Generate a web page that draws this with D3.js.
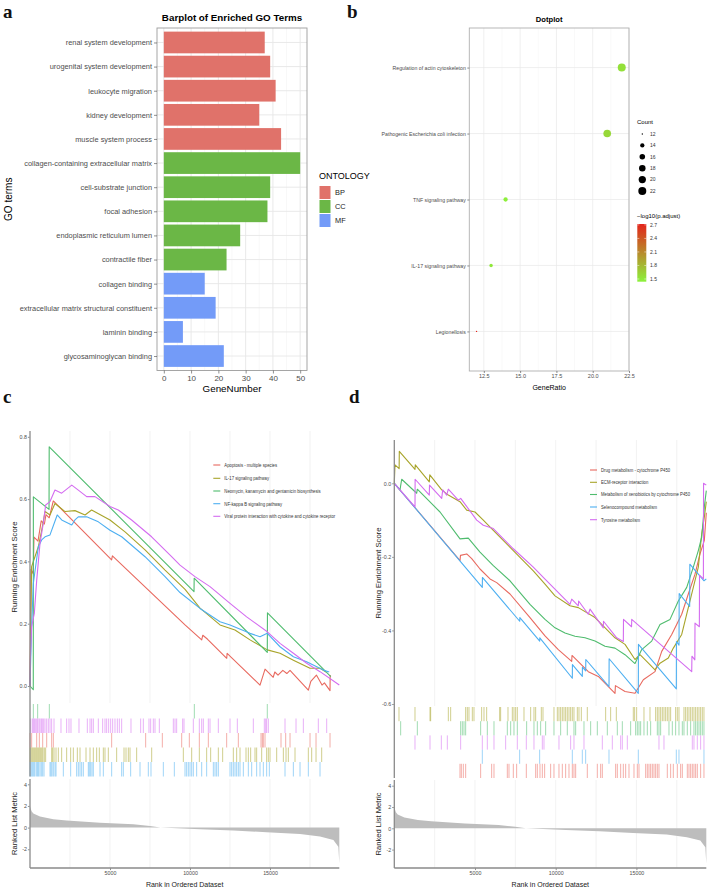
<!DOCTYPE html>
<html><head><meta charset="utf-8">
<script src="https://cdn.jsdelivr.net/npm/d3@7"></script>
<style>body{margin:0;background:#fff}svg{display:block}</style>
</head><body>
<svg id="fig" width="708" height="889"></svg>
<script>
// ---------------- DATA ----------------
// Panel a: GO barplot
const goTerms = ["renal system development","urogenital system development","leukocyte migration","kidney development","muscle system process","collagen-containing extracellular matrix","cell-substrate junction","focal adhesion","endoplasmic reticulum lumen","contractile fiber","collagen binding","extracellular matrix structural constituent","laminin binding","glycosaminoglycan binding"];
const goCounts = [37,39,41,35,43,50,39,38,28,23,15,19,7,22];
const goOntology = ["BP","BP","BP","BP","BP","CC","CC","CC","CC","CC","MF","MF","MF","MF"];
const ontologyLevels = ["BP","CC","MF"];
const goTicks = [0,10,20,30,40,50];

// Panel b: KEGG dotplot
const keggTerms = ["Regulation of actin cytoskeleton","Pathogenic Escherichia coli infection","TNF signaling pathway","IL-17 signaling pathway","Legionellosis"];
const keggRatio = [22,21,14,13,12];
const keggCount = [22,21,14,13,12];
const keggLogP = [1.55,1.6,1.46,1.5,2.72];
const dotTicks = [12.5,15,17.5,20,22.5];
const countLegend = [12,14,16,18,20,22];
const logPTicks = [2.7,2.4,2.1,1.8,1.5];

// Panel c: GSEA (positive)
const cNames = ["Apoptosis - multiple species","IL-17 signaling pathway","Neomycin, kanamycin and gentamicin biosynthesis","NF-kappa B signaling pathway","Viral protein interaction with cytokine and cytokine receptor"];
const cApoptosis = [[0,0],[60,0.375],[200,0.36],[250,0.478],[500,0.465],[700,0.53],[900,0.52],[1000,0.55],[1200,0.54],[1456,0.594],[5100,0.405],[5150,0.418],[9688,0.196],[10000,0.182],[10731,0.148],[10800,0.163],[11100,0.15],[12294,0.089],[12320,0.105],[14375,0.003],[14690,0.054],[15200,0.028],[15300,0.045],[15500,0.035],[15800,0.05],[16050,0.04],[16250,0.05],[17394,-0.013],[17550,0.015],[17900,0.035],[18250,0.003],[18400,0.01],[18750,-0.015],[18760,0.035]];
const cIL17 = [[0,0],[50,0.19],[100,0.383],[310,0.415],[520,0.447],[730,0.5],[940,0.56],[1250,0.549],[1560,0.586],[2190,0.56],[2810,0.563],[3440,0.549],[3850,0.565],[5000,0.533],[5940,0.495],[7190,0.437],[8440,0.372],[9690,0.31],[10625,0.25],[11875,0.196],[12810,0.18],[13750,0.148],[14830,0.116],[15625,0.105],[16460,0.083],[17500,0.057],[18125,0.057],[18500,0.045]];
const cNeomycin = [[0,0],[205,-0.012],[210,0.607],[1190,0.567],[1200,0.768],[10250,0.303],[10260,0.346],[14830,0.108],[14840,0.235],[18800,0.03]];
const cNFkB = [[0,0],[100,0.19],[210,0.33],[520,0.447],[730,0.469],[940,0.479],[1250,0.485],[1700,0.549],[1980,0.533],[2610,0.517],[2810,0.533],[3020,0.543],[3540,0.543],[4270,0.527],[5000,0.5],[5730,0.479],[7190,0.415],[8440,0.351],[9375,0.3],[10625,0.249],[11875,0.206],[12500,0.196],[13750,0.169],[14375,0.158],[14830,0.169],[15625,0.126],[16460,0.094],[17290,0.078],[18330,0.051],[18700,0.045]];
const cViral = [[0,0],[20,0.083],[100,0.19],[270,0.233],[420,0.34],[625,0.458],[830,0.522],[980,0.581],[1250,0.592],[1560,0.629],[1980,0.619],[2610,0.645],[3020,0.629],[3540,0.608],[4060,0.608],[5000,0.576],[5520,0.565],[6350,0.533],[7600,0.479],[8850,0.415],[9375,0.388],[10310,0.351],[11250,0.319],[12500,0.265],[13540,0.222],[14830,0.174],[15625,0.137],[16460,0.105],[17290,0.073],[18125,0.046],[19330,0.003]];
const cHitsNeomycin = [208,479,1208,10270,14830];
const cHitsViral = [42,146,208,271,333,417,479,562,625,708,771,854,937,1042,1146,1250,1354,1500,1937,2291,2437,2562,3062,3583,3750,3854,3958,4271,4541,4687,4791,4916,5041,5166,5312,5458,5583,5729,6312,6916,7083,7437,7541,7708,7812,8083,8958,9062,9166,9541,9625,10208,10583,10729,10833,11145,11250,11770,12500,12958,13958,14645,14729,14791,14895,15937,16625,17083,18020,18541];
const cHitsApoptosis = [0,104,417,583,792,1042,1354,1458,5104,7229,8270,9479,9958,10583,11145,12291,13020,14437,14520,14583,14687,15687,15979,16250,17500,17875,18750];
const cHitsIL17 = [0,62,125,187,250,312,375,437,500,562,625,687,750,812,896,979,1354,1416,1500,1625,1771,1979,2291,2541,2708,2958,3125,3500,3750,3958,4166,4333,4583,4687,4895,5416,5875,6000,6145,6250,6666,7604,9583,10104,10583,11041,11291,11770,12041,12708,12916,13125,13500,13645,13791,14062,14166,14479,14791,14895,15000,15416,15833,16000,16145,16562,17395,17604,17875,18229];
const cHitsNFkB = [0,62,125,187,250,312,417,479,541,625,708,791,875,1250,1312,1375,1458,1562,1625,2083,2541,2916,3020,3125,3229,3333,3645,3708,3791,3875,3958,4375,4583,5104,5729,5833,6291,6875,7395,7562,8333,9020,9687,9791,9895,10000,10104,10208,10416,10729,11041,11458,11562,11666,11770,12500,12604,12708,12812,12916,13020,13125,13333,13645,13854,14166,14375,14583,14791,14958,15937,16458,16875,17395,18125];

// Panel d: GSEA (negative)
const dNames = ["Drug metabolism - cytochrome P450","ECM-receptor interaction","Metabolism of xenobiotics by cytochrome P450","Selenocompound metabolism","Tyrosine metabolism"];
const dDrug = [[0,0],[4071,-0.21],[4100,-0.196],[4486,-0.192],[4796,-0.205],[5310,-0.233],[5930,-0.26],[6345,-0.27],[7168,-0.301],[8407,-0.365],[9337,-0.415],[10161,-0.452],[10992,-0.484],[11010,-0.468],[12020,-0.512],[12640,-0.525],[13674,-0.571],[13700,-0.55],[14294,-0.566],[14913,-0.571],[15428,-0.534],[16153,-0.512],[16568,-0.457],[17188,-0.411],[17807,-0.356],[18216,-0.301],[18631,-0.247],[18942,-0.192],[19208,-0.155],[19330,-0.08]];
const dECM = [[0,0],[43,0.05],[300,0.04],[310,0.087],[1283,0.038],[1300,0.05],[2169,0.004],[2200,0.023],[2937,-0.018],[3346,-0.032],[4071,-0.05],[4486,-0.073],[5000,-0.078],[5514,-0.1],[6134,-0.128],[7373,-0.183],[8612,-0.238],[9337,-0.274],[9957,-0.306],[10886,-0.333],[11400,-0.338],[12435,-0.365],[13674,-0.42],[14294,-0.438],[14913,-0.479],[15223,-0.466],[15638,-0.484],[16153,-0.507],[16462,-0.489],[16977,-0.475],[17287,-0.448],[17807,-0.411],[18216,-0.338],[18526,-0.283],[18836,-0.228],[19047,-0.137],[19208,-0.092],[19330,-0.05]];
const dXeno = [[0,0],[353,-0.018],[458,0.011],[1388,-0.027],[1425,-0.016],[2832,-0.078],[4071,-0.151],[4585,-0.149],[5310,-0.187],[6134,-0.224],[7168,-0.265],[8407,-0.329],[9337,-0.37],[9957,-0.393],[10576,-0.407],[11196,-0.416],[11815,-0.42],[12435,-0.429],[13054,-0.443],[13674,-0.448],[14294,-0.466],[14913,-0.49],[15328,-0.452],[15948,-0.429],[16462,-0.384],[17082,-0.37],[17597,-0.32],[18117,-0.283],[18526,-0.228],[18836,-0.183],[19047,-0.146],[19208,-0.064],[19330,-0.02]];
const dSeleno = [[0,0],[5452,-0.283],[5460,-0.256],[7770,-0.375],[7780,-0.365],[9009,-0.429],[9015,-0.42],[11029,-0.53],[11035,-0.493],[11649,-0.525],[11655,-0.5],[11859,-0.51],[11865,-0.479],[13303,-0.553],[13310,-0.477],[15118,-0.571],[15125,-0.438],[17473,-0.559],[17480,-0.43],[17640,-0.44],[17650,-0.3],[18300,-0.335],[18310,-0.22],[19189,-0.265],[19330,-0.26]];
const dTyrosine = [[0,0],[1283,-0.064],[1290,0.011],[2169,-0.032],[2180,-0.005],[2937,-0.041],[2999,-0.018],[3247,-0.032],[3346,-0.016],[3965,-0.046],[4114,-0.041],[5106,-0.1],[5514,-0.114],[6134,-0.123],[7373,-0.178],[8612,-0.228],[9232,-0.256],[10886,-0.329],[10992,-0.315],[11400,-0.333],[11420,-0.32],[12020,-0.356],[12125,-0.342],[12950,-0.393],[12960,-0.375],[13780,-0.42],[14190,-0.43],[14200,-0.37],[14700,-0.39],[14710,-0.37],[18427,-0.512],[18440,-0.47],[18620,-0.48],[18630,-0.38],[18900,-0.39],[18910,-0.25],[19150,-0.26],[19160,0.0],[19330,-0.005]];
const dHitsECM = [291,1282,2212,2253,3348,3492,4421,4524,4627,4834,4937,5412,5557,5722,6527,6589,7044,7312,7415,7518,7622,8035,8448,8654,8758,9109,9212,9893,10100,10203,10306,10410,10513,10616,10719,10823,10926,11029,11132,11339,11442,11587,11958,13094,13404,13755,14808,14891,15015,15469,15841,16192,16295,16398,16502,16605,16708,16811,16915,17018,17121,17431,17534,17637,17947,18050,18153,18257,18360,18463,18566,18669,18773,18876,18979,19082,19185];
const dHitsXeno = [394,1427,4111,4214,4318,4421,5350,5763,6176,7002,7209,7415,7622,8200,8654,8861,9067,9377,9893,10306,10719,11132,11236,11752,12165,12578,13198,13817,14127,14643,14953,15056,15160,15263,15469,15676,15882,16295,16398,16502,17018,17225,17431,17637,17844,17947,18153,18360,18566,18669,18773,18876,18979,19082,19185];
const dHitsTyrosine = [1282,2212,2914,3286,4111,5453,5763,6176,6899,7622,8179,8654,9171,9274,10203,10926,11132,11752,12888,13507,14024,14127,14437,16398,16708,18463,18566,18773,18979,19185];
const dHitsSeleno = [5453,7766,9005,11029,11649,11855,13301,15118,17472,17637,19185];
const dHitsDrug = [4070,4153,4277,4421,5350,6032,6176,7002,7106,7374,7580,8179,8758,8861,9026,9171,9315,9687,9893,10203,10410,10616,10823,11029,11132,11236,11958,12578,12784,12888,13714,13817,14024,14189,14334,14540,14850,15056,15160,15573,15676,15779,15882,15986,16089,16192,16295,16398,16914,17121,17286,17534,17740,17844,18153,18257,18360,18463,18566,18669,18773,18979,19185];

// Ranked list metric (shared dataset)
const rankedMetric = [[0,1.95],[100,1.5],[210,1.3],[625,1.02],[1460,0.78],[2290,0.66],[4375,0.44],[6460,0.3],[7500,0.14],[8150,0],[10625,-0.15],[12710,-0.27],[14790,-0.43],[16875,-0.58],[18125,-0.83],[18960,-1.15],[19270,-1.77],[19330,-3.3]];
const nGenes = 19330;
const rankTicks = [5000,10000,15000];
const rankGrid = [2500,5000,7500,10000,12500,15000,17500];
const cScoreTicks = [0,0.2,0.4,0.6,0.8];
const dScoreTicks = [0,-0.2,-0.4,-0.6];
const metricTicks = [-2,0,2,4];

// ---------------- DRAWING ----------------
const FONT = "'Liberation Sans', Arial, Helvetica, sans-serif";
const SERIF = "'Liberation Serif', 'Times New Roman', serif";
const svg = d3.select('#fig').attr('font-family', FONT);
const ontColor = d3.scaleOrdinal().domain(ontologyLevels).range(["#E0726A","#6BB746","#739BF8"]);
const gseaColors = ["#E8695F","#A8A42A","#4FBC6E","#4DAFF1","#D46CF0"];

function styleAxis(sel, size, color) {
  sel.select('.domain').remove();
  sel.selectAll('.tick line').attr('stroke', '#444').attr('stroke-width', 0.6);
  sel.selectAll('.tick text').attr('font-size', size).attr('fill', color).attr('font-family', FONT);
}

// Panel labels
[["a",3,18],["b",347,18],["c",3,403],["d",349,403]].forEach(([t,x,y]) => {
  svg.append('text').attr('x',x).attr('y',y).text(t).attr('font-family',SERIF)
    .attr('font-weight','bold').attr('font-size',19).attr('fill','#111');
});

// ===== Panel a =====
(function(){
  const L=157,R=307,T=28,B=370.5;
  const g = svg.append('g');
  const x = d3.scaleLinear().domain([-2.5,52.5]).range([L,R]);
  const y = d3.scalePoint().domain(goTerms).range([T,B]).padding(0.6);
  const bh = y.step()*0.9;
  const minor = d3.pairs(goTicks).map(p => (p[0]+p[1])/2);
  g.selectAll('.mn').data(minor).join('line').attr('x1',d=>x(d)).attr('x2',d=>x(d)).attr('y1',T).attr('y2',B).attr('stroke','#f3f3f3').attr('stroke-width',0.6);
  g.selectAll('.mj').data(goTicks).join('line').attr('x1',d=>x(d)).attr('x2',d=>x(d)).attr('y1',T).attr('y2',B).attr('stroke','#e6e6e6').attr('stroke-width',0.9);
  g.selectAll('.hy').data(goTerms).join('line').attr('x1',L).attr('x2',R).attr('y1',d=>y(d)).attr('y2',d=>y(d)).attr('stroke','#e6e6e6').attr('stroke-width',0.9);
  g.selectAll('.bar').data(goTerms).join('rect')
    .attr('x',x(0)).attr('y',d=>y(d)-bh/2).attr('width',(d,i)=>x(goCounts[i])-x(0)).attr('height',bh)
    .attr('fill',(d,i)=>ontColor(goOntology[i]));
  g.append('rect').attr('x',L).attr('y',T).attr('width',R-L).attr('height',B-T).attr('fill','none').attr('stroke','#9c9c9c').attr('stroke-width',0.9);
  const ya = g.append('g').attr('transform',`translate(${L},0)`).call(d3.axisLeft(y).tickSize(3).tickPadding(2));
  styleAxis(ya, 7.4, '#4d4d4d');
  const xa = g.append('g').attr('transform',`translate(0,${B})`).call(d3.axisBottom(x).tickValues(goTicks).tickSize(3).tickPadding(1.5));
  styleAxis(xa, 8, '#4d4d4d');
  g.append('text').attr('x',(L+R)/2).attr('y',20.5).attr('text-anchor','middle').attr('font-weight','bold').attr('font-size',9.8).text('Barplot of Enriched GO Terms');
  g.append('text').attr('x',(L+R)/2).attr('y',392).attr('text-anchor','middle').attr('font-size',9.8).text('GeneNumber');
  g.append('text').attr('transform',`translate(12,${(T+B)/2}) rotate(-90)`).attr('text-anchor','middle').attr('font-size',10).text('GO terms');
  g.append('text').attr('x',319).attr('y',179).attr('font-size',9).text('ONTOLOGY');
  ontologyLevels.forEach((o,i) => {
    g.append('rect').attr('x',319.5).attr('y',186+i*14).attr('width',11).attr('height',13).attr('fill',ontColor(o));
    g.append('text').attr('x',335).attr('y',192.5+i*14).attr('dy','0.35em').attr('font-size',7.4).attr('fill','#222').text(o);
  });
})();

// ===== Panel b =====
(function(){
  const L=469.3,R=629,T=28,B=371;
  const g = svg.append('g');
  const x = d3.scaleLinear().domain([11.5,22.5]).range([L,R]);
  const y = d3.scalePoint().domain(keggTerms).range([T,B]).padding(0.6);
  const rT = d3.scaleLinear().domain([12,22]).range([0,1]);
  const rS = d3.scaleSqrt().domain([0,1]).range([0.67,4]);
  const r = v => rS(rT(v));
  const col = d3.scaleLinear().domain([1.44,2.72]).range(["#8cf23c","#e3241b"]);
  const minor = d3.pairs(dotTicks).map(p => (p[0]+p[1])/2);
  g.selectAll('.mn').data(minor).join('line').attr('x1',d=>x(d)).attr('x2',d=>x(d)).attr('y1',T).attr('y2',B).attr('stroke','#f3f3f3').attr('stroke-width',0.5);
  g.selectAll('.mj').data(dotTicks).join('line').attr('x1',d=>x(d)).attr('x2',d=>x(d)).attr('y1',T).attr('y2',B).attr('stroke','#e8e8e8').attr('stroke-width',0.7);
  g.selectAll('.hy').data(keggTerms).join('line').attr('x1',L).attr('x2',R).attr('y1',d=>y(d)).attr('y2',d=>y(d)).attr('stroke','#e8e8e8').attr('stroke-width',0.7);
  g.selectAll('.dot').data(keggTerms).join('circle')
    .attr('cx',(d,i)=>x(keggRatio[i])).attr('cy',d=>y(d)).attr('r',(d,i)=>r(keggCount[i]))
    .attr('fill',(d,i)=>col(keggLogP[i]));
  g.append('rect').attr('x',L).attr('y',T).attr('width',R-L).attr('height',B-T).attr('fill','none').attr('stroke','#b0b0b0').attr('stroke-width',0.9);
  const ya = g.append('g').attr('transform',`translate(${L},0)`).call(d3.axisLeft(y).tickSize(2).tickPadding(1.5));
  styleAxis(ya, 5.2, '#4d4d4d');
  const xa = g.append('g').attr('transform',`translate(0,${B})`).call(d3.axisBottom(x).tickValues(dotTicks).tickFormat(d3.format('.1f')).tickSize(2).tickPadding(1.5));
  styleAxis(xa, 5.5, '#4d4d4d');
  g.append('text').attr('x',(L+R)/2).attr('y',22).attr('text-anchor','middle').attr('font-weight','bold').attr('font-size',7.6).text('Dotplot');
  g.append('text').attr('x',(L+R)/2).attr('y',390).attr('text-anchor','middle').attr('font-size',7).text('GeneRatio');
  // size legend
  g.append('text').attr('x',637).attr('y',124).attr('font-size',6).text('Count');
  countLegend.forEach((v,i) => {
    const cy = 134 + i*11.4;
    g.append('circle').attr('cx',642.3).attr('cy',cy).attr('r',r(v)).attr('fill','#000');
    g.append('text').attr('x',650).attr('y',cy).attr('dy','0.35em').attr('font-size',5).attr('fill','#333').text(v);
  });
  // colorbar
  g.append('text').attr('x',637).attr('y',217.5).attr('font-size',6).text('\u2212log10(p.adjust)');
  const cb = d3.scaleLinear().domain([1.44,2.72]).range([281.7,224]);
  const grad = svg.append('defs').append('linearGradient').attr('id','cbgrad').attr('x1',0).attr('y1',1).attr('x2',0).attr('y2',0);
  grad.append('stop').attr('offset','0%').attr('stop-color',col(1.44));
  grad.append('stop').attr('offset','100%').attr('stop-color',col(2.72));
  g.append('rect').attr('x',637.3).attr('y',224).attr('width',9).attr('height',57.7).attr('fill','url(#cbgrad)');
  logPTicks.forEach(v => {
    g.append('line').attr('x1',637.3).attr('x2',639.3).attr('y1',cb(v)).attr('y2',cb(v)).attr('stroke','#fff').attr('stroke-width',0.5);
    g.append('line').attr('x1',644.3).attr('x2',646.3).attr('y1',cb(v)).attr('y2',cb(v)).attr('stroke','#fff').attr('stroke-width',0.5);
    g.append('text').attr('x',650).attr('y',cb(v)).attr('dy','0.35em').attr('font-size',5).attr('fill','#333').text(v.toFixed(1));
  });
})();

// ===== GSEA panels =====
function drawGsea(cfg) {
  const g = svg.append('g');
  const x = d3.scaleLinear().domain([0,nGenes]).range([cfg.x0,cfg.x1]);
  const y = d3.scaleLinear().domain([cfg.tickA[0],cfg.tickA[1]]).range([cfg.tickA[2],cfg.tickA[3]]);
  const ym = d3.scaleLinear().domain([0,4]).range([cfg.m0,cfg.m4]);
  // grid
  g.selectAll('.g1').data(rankGrid).join('line').attr('x1',d=>x(d)).attr('x2',d=>x(d)).attr('y1',cfg.esTop).attr('y2',cfg.esBot).attr('stroke','#ececec').attr('stroke-width',0.7);
  g.selectAll('.g2').data(rankGrid).join('line').attr('x1',d=>x(d)).attr('x2',d=>x(d)).attr('y1',cfg.mTop).attr('y2',cfg.mBot).attr('stroke','#ececec').attr('stroke-width',0.7);
  // ES curves
  const line = d3.line().x(d=>x(d[0])).y(d=>y(d[1]));
  cfg.series.forEach((s,i) => {
    g.append('path').attr('d',line(s)).attr('fill','none').attr('stroke',gseaColors[i]).attr('stroke-width',1.1).attr('stroke-linejoin','round');
  });
  // hits
  cfg.rows.forEach((idx,k) => {
    const top = cfg.hitTop + k*cfg.rowH;
    g.append('g').selectAll('line').data(cfg.hits[idx]).join('line')
      .attr('x1',d=>x(d)).attr('x2',d=>x(d)).attr('y1',top).attr('y2',top+cfg.rowH)
      .attr('stroke',gseaColors[idx]).attr('stroke-width',0.9).attr('stroke-opacity',0.6);
  });
  // metric
  const area = d3.area().x(d=>x(d[0])).y0(ym(0)).y1(d=>ym(d[1]));
  g.append('path').attr('d',area(rankedMetric)).attr('fill','#bdbdbd');
  // axes lines
  g.append('line').attr('x1',cfg.x0).attr('x2',cfg.x0).attr('y1',cfg.esTop).attr('y2',cfg.hitTop+5*cfg.rowH).attr('stroke','#8a8a8a').attr('stroke-width',1.3);
  g.append('line').attr('x1',cfg.x0).attr('x2',cfg.x0).attr('y1',cfg.mTop).attr('y2',cfg.mBot).attr('stroke','#8a8a8a').attr('stroke-width',1.3);
  g.append('line').attr('x1',cfg.x0).attr('x2',cfg.x1).attr('y1',cfg.mBot).attr('y2',cfg.mBot).attr('stroke','#8a8a8a').attr('stroke-width',1.3);
  const ya = g.append('g').attr('transform',`translate(${cfg.x0-0.6},0)`).call(d3.axisLeft(y).tickValues(cfg.scoreTicks).tickFormat(v=>v.toFixed(1)).tickSize(1.5).tickPadding(1));
  styleAxis(ya, 5.3, '#4d4d4d');
  const ma = g.append('g').attr('transform',`translate(${cfg.x0-0.6},0)`).call(d3.axisLeft(ym).tickValues(metricTicks).tickFormat(v=>String(v)).tickSize(1.5).tickPadding(1));
  styleAxis(ma, 5.3, '#4d4d4d');
  const xa = g.append('g').attr('transform',`translate(0,${cfg.mBot+0.6})`).call(d3.axisBottom(x).tickValues(rankTicks).tickFormat(v=>String(v)).tickSize(1.5).tickPadding(1.5));
  styleAxis(xa, 5.3, '#4d4d4d');
  // titles
  g.append('text').attr('transform',`translate(${cfg.x0-13},${(cfg.esTop+cfg.esBot)/2}) rotate(-90)`).attr('text-anchor','middle').attr('font-size',7.6).attr('fill','#222').text('Running Enrichment Score');
  g.append('text').attr('transform',`translate(${cfg.x0-13},${(cfg.mTop+cfg.mBot)/2}) rotate(-90)`).attr('text-anchor','middle').attr('font-size',7.6).attr('fill','#222').text('Ranked List Metric');
  g.append('text').attr('x',(cfg.x0+cfg.x1)/2).attr('y',887).attr('text-anchor','middle').attr('font-size',7).attr('fill','#222').text('Rank in Ordered Dataset');
  // legend
  cfg.names.forEach((n,i) => {
    const ly = cfg.legY[i];
    g.append('line').attr('x1',cfg.legX).attr('x2',cfg.legX+7).attr('y1',ly).attr('y2',ly).attr('stroke',gseaColors[i]).attr('stroke-width',1.1);
    g.append('text').attr('transform',`translate(${cfg.legX+11},${ly}) scale(0.82,1)`).attr('dy','0.35em').attr('font-size',5.2).attr('fill','#333').text(n);
  });
}

drawGsea({
  x0:30, x1:339.3, esTop:431, esBot:703, tickA:[0,0.8,686,436.8],
  hitTop:704, rowH:14.5, mTop:779, mBot:868, m0:827.6, m4:784.3,
  scoreTicks:cScoreTicks, series:[cApoptosis,cIL17,cNeomycin,cNFkB,cViral],
  hits:[cHitsApoptosis,cHitsIL17,cHitsNeomycin,cHitsNFkB,cHitsViral], rows:[2,4,0,1,3],
  names:cNames, legX:213.3, legY:[465,478.3,491,503.7,516.3]
});
drawGsea({
  x0:394.3, x1:706.3, esTop:440, esBot:706, tickA:[0,-0.6,483.3,704],
  hitTop:707, rowH:14.2, mTop:780, mBot:868, m0:828.3, m4:785.7,
  scoreTicks:dScoreTicks, series:[dDrug,dECM,dXeno,dSeleno,dTyrosine],
  hits:[dHitsDrug,dHitsECM,dHitsXeno,dHitsSeleno,dHitsTyrosine], rows:[1,2,4,3,0],
  names:dNames, legX:590, legY:[470,482.3,494.5,507,519.7]
});
</script>
</body></html>
